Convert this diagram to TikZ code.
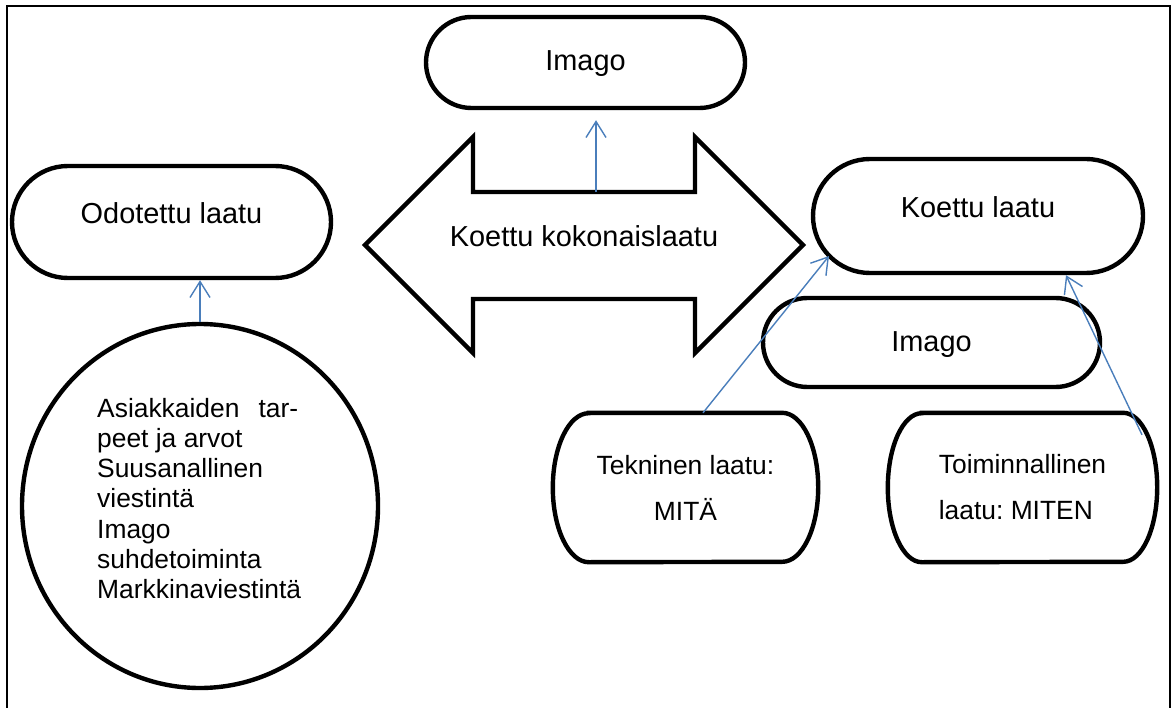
\documentclass[tikz,border=0pt]{standalone}
\usepackage{fontspec}
\setmainfont{Liberation Sans}
\usetikzlibrary{arrows.meta,calc,shapes.geometric}
\definecolor{arrowblue}{RGB}{74,126,187}
\frenchspacing
\tikzset{
  shp/.style={draw=black, line width=4.4pt},
  stad/.style={shp, rectangle, fill=white, inner sep=0pt},
  bigtxt/.style={font=\fontsize{28.9}{34}\selectfont},
  midtxt/.style={font=\fontsize{26.4}{46}\selectfont},
  smalltxt/.style={font=\fontsize{26.4}{30.3}\selectfont},
  conn/.style={draw=arrowblue, line width=1.4pt, -{Straight Barb[length=16pt,width=20pt]}},
  frameline/.style={draw=black, line width=2pt}
}
\begin{document}
\begin{tikzpicture}[x=1pt,y=-1pt]
\useasboundingbox (0,0) rectangle (1174,708);
% frame
\draw[frameline] (7,712) -- (7,6) -- (1170,6) -- (1170,712);

% double arrow
\draw[shp, fill=white, line join=miter]
  (365,245) -- (473,137) -- (473,192) -- (695,192) -- (695,137) -- (803,245)
  -- (695,353) -- (695,299) -- (473,299) -- (473,353) -- cycle;
\node[bigtxt, text height=24pt, text depth=20pt, inner sep=0pt] (kok) at (584,245) {Koettu kokonaislaatu};
\coordinate (koktop) at (596,192);

% stadium nodes
\node[stad, bigtxt, minimum width=319pt, minimum height=112pt, rounded corners=56pt,
      text height=24pt, text depth=20pt] (odo) at (171.5,222) {Odotettu laatu};
\node[stad, bigtxt, minimum width=319pt, minimum height=91pt, rounded corners=45.5pt,
      text height=24pt, text depth=7pt] (imagoa) at (585.5,62.5) {Imago};
\node[stad, bigtxt, minimum width=330pt, minimum height=114pt, rounded corners=57pt,
      text height=24pt, text depth=20pt] (koettu) at (978,216) {Koettu laatu};
\node[stad, bigtxt, minimum width=337pt, minimum height=89pt, rounded corners=44.5pt,
      text height=24pt, text depth=7pt] (imagob) at (931.5,342.5) {Imago};

% circle
\node[shp, ellipse, fill=white, inner sep=0pt, minimum width=356pt, minimum height=364pt] (circ) at (200,506) {};
\node[smalltxt, align=left, anchor=west, inner sep=0pt] (circtxt) at (97,498.5)
  {\hbox to 201pt{Asiakkaiden\hfill tar-}\\peet ja arvot\\Suusanallinen\\viestintä\\Imago\\suhdetoiminta\\Markkinaviestintä};

% bulged boxes
\node[midtxt, align=center, inner sep=0pt, minimum width=265pt, minimum height=149pt] (tek) at (685.5,487.5) {Tekninen laatu:\\MITÄ};
\draw[shp] ([xshift=36pt]tek.north west) -- ([xshift=-36pt]tek.north east)
  arc[start angle=90, end angle=-90, x radius=36pt, y radius=74.5pt]
  -- ([xshift=36pt]tek.south west)
  arc[start angle=270, end angle=90, x radius=36pt, y radius=74.5pt] -- cycle;

\node[midtxt, align=left, inner sep=0pt, minimum width=269pt, minimum height=149pt] (toim) at (1022.5,487.5) {Toiminnallinen\\laatu: MITEN};
\draw[shp] ([xshift=34pt]toim.north west) -- ([xshift=-34pt]toim.north east)
  arc[start angle=90, end angle=-90, x radius=34pt, y radius=74.5pt]
  -- ([xshift=34pt]toim.south west)
  arc[start angle=270, end angle=90, x radius=34pt, y radius=74.5pt] -- cycle;

% connectors
\draw[conn] (circ.north) -- (circ.north |- odo.south);
\draw[conn, shorten >=10pt] (koktop) -- (koktop |- imagoa.south);
\draw[conn] ($(tek.north)+(17.5,0)$) -- ($(koettu.center)+(-149,40)$);
\draw[conn] ($(toim.north)+(119.5,22)$) -- ($(koettu.south)+(88,0)$);
\end{tikzpicture}
\end{document}
